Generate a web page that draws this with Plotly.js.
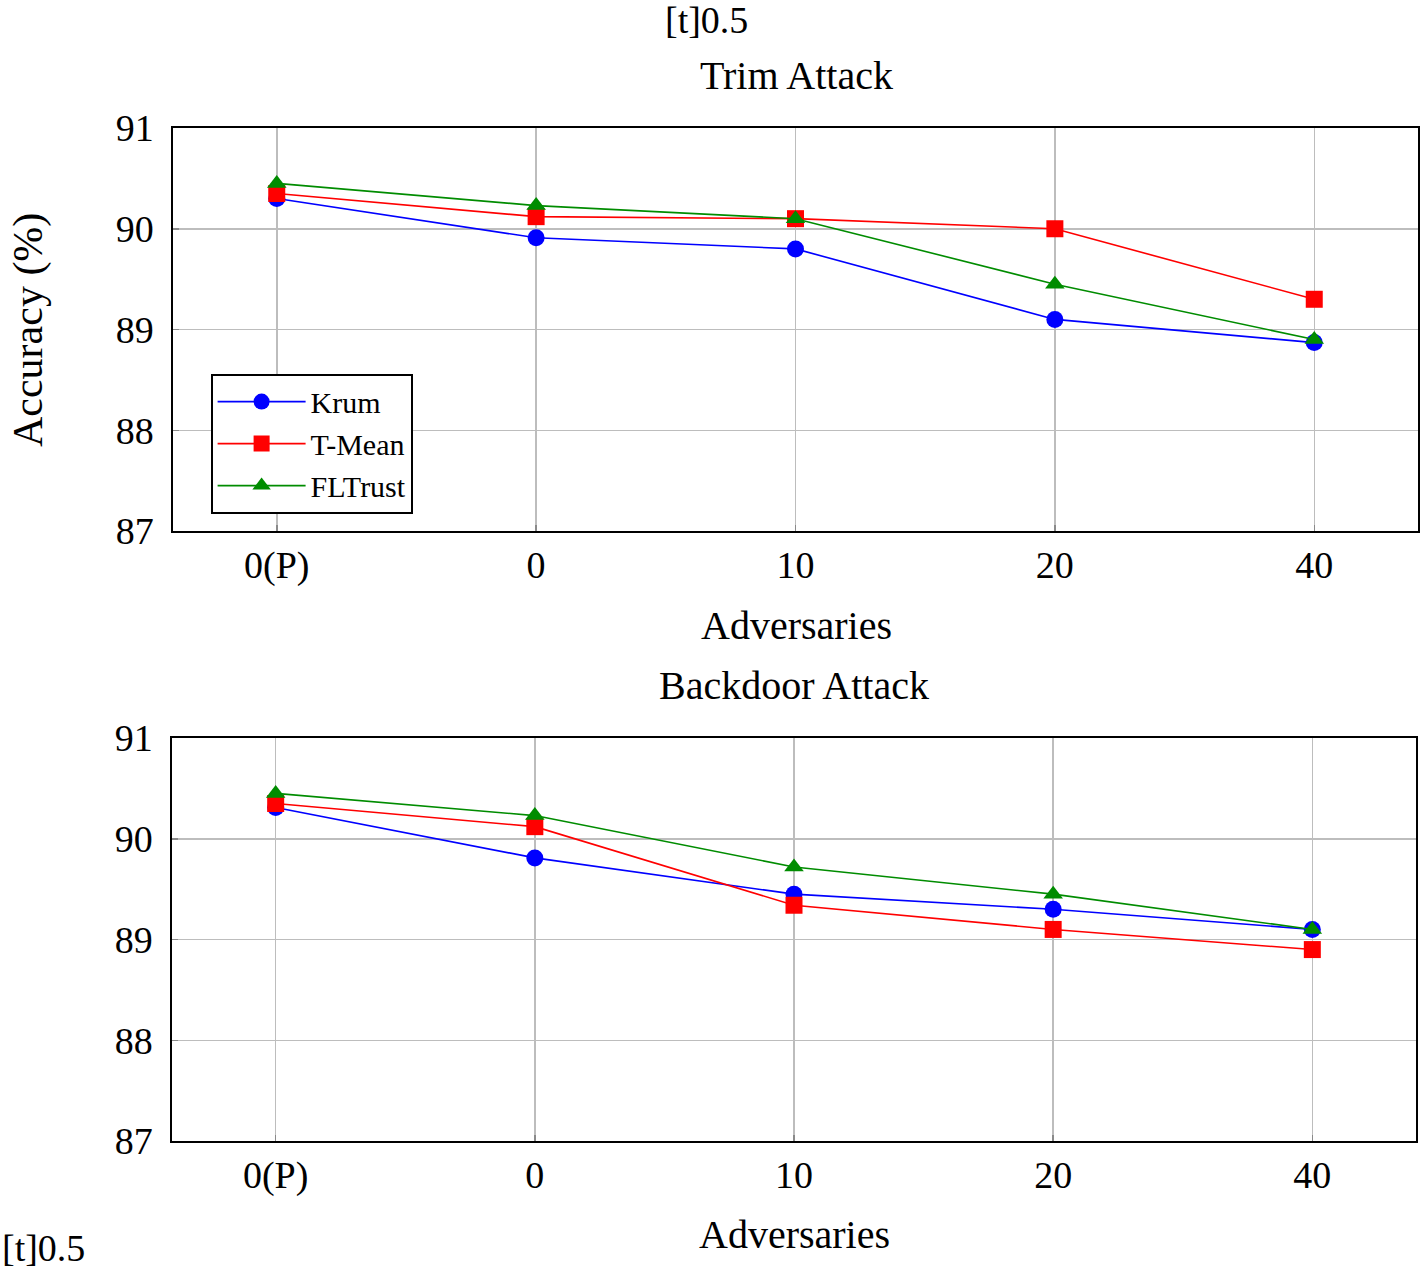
<!DOCTYPE html>
<html>
<head>
<meta charset="utf-8">
<script src="https://cdn.plot.ly/plotly-3.0.1.min.js"></script>
<style>html,body{margin:0;padding:0;background:#fff;}#chart{width:1420px;height:1272px;}</style>
</head>
<body>
<div id="chart"></div>
<script>
const categories = ["0(P)", "0", "10", "20", "40"];
const seriesNames = ["Krum", "T-Mean", "FLTrust"];
const trimKrum    = [90.3, 89.91, 89.8, 89.1, 88.87];
const trimTMean   = [90.35, 90.12, 90.1, 90.0, 89.3];
const trimFLTrust = [90.45, 90.23, 90.1, 89.45, 88.9];
const bdKrum      = [90.31, 89.81, 89.45, 89.3, 89.1];
const bdTMean     = [90.35, 90.12, 89.34, 89.1, 88.9];
const bdFLTrust   = [90.45, 90.23, 89.72, 89.45, 89.1];
const yTicks = [87, 88, 89, 90, 91];

const FONT = "Liberation Serif, Times New Roman, serif";
const colors = ["#0000ff", "#ff0000", "#008c00"];
const symbols = ["circle", "square", "triangle-up"];

function mk(y, i, xa, ya, show) {
  return {
    x: categories, y: y, xaxis: xa, yaxis: ya, type: "scatter", mode: "lines+markers",
    name: seriesNames[i], showlegend: show,
    line: {color: colors[i], width: 1.6},
    marker: {color: colors[i], symbol: symbols[i], size: 17, line: {width: 0}}
  };
}
const data = [
  mk(trimKrum, 0, "x", "y", true), mk(trimTMean, 1, "x", "y", true), mk(trimFLTrust, 2, "x", "y", true),
  mk(bdKrum, 0, "x2", "y2", false), mk(bdTMean, 1, "x2", "y2", false), mk(bdFLTrust, 2, "x2", "y2", false)
];

function xax(domain, anchor) {
  return {
    domain: domain, anchor: anchor, type: "category", range: [-0.4, 4.4],
    showgrid: true, gridcolor: "#bdbdbd", gridwidth: 1.5,
    showline: true, linecolor: "#000", linewidth: 1.6, mirror: true,
    ticks: "inside", ticklen: 6, tickcolor: "#8a8a8a", tickwidth: 1.5,
    tickfont: {family: FONT, size: 38, color: "#000"}, ticklabelstandoff: 0,
    zeroline: false, fixedrange: true
  };
}
function yax(domain, anchor) {
  return {
    domain: domain, anchor: anchor, range: [87, 91], tickvals: yTicks, ticktext: yTicks.map(String),
    showgrid: true, gridcolor: "#bdbdbd", gridwidth: 1.5,
    showline: true, linecolor: "#000", linewidth: 1.6, mirror: true,
    ticks: "inside", ticklen: 6, tickcolor: "#8a8a8a", tickwidth: 1.5,
    tickfont: {family: FONT, size: 38, color: "#000"}, ticklabelstandoff: 10,
    zeroline: false, fixedrange: true
  };
}

const W = 1420, H = 1272;
const layout = {
  width: W, height: H, margin: {l: 0, r: 0, t: 0, b: 0},
  paper_bgcolor: "#fff", plot_bgcolor: "#fff",
  font: {family: FONT, color: "#000"},
  xaxis: xax([173 / W, 1418 / W], "y"),
  yaxis: yax([(H - 531) / H, (H - 128) / H], "x"),
  xaxis2: xax([172 / W, 1416 / W], "y2"),
  yaxis2: yax([(H - 1141) / H, (H - 738) / H], "x2"),
  showlegend: true,
  legend: {
    x: 211 / W, y: (H - 374) / H, xanchor: "left", yanchor: "top",
    bgcolor: "#fff", bordercolor: "#000", borderwidth: 1.6,
    font: {family: FONT, size: 30, color: "#000"}, tracegroupgap: 0,
    itemwidth: 88
  },
  annotations: [
    {text: "[t]0.5", x: 706 / W, y: (H - 20) / H, xref: "paper", yref: "paper", showarrow: false, xanchor: "center", yanchor: "middle", font: {family: FONT, size: 38}},
    {text: "Trim Attack", x: 796 / W, y: (H - 76) / H, xref: "paper", yref: "paper", showarrow: false, xanchor: "center", yanchor: "middle", font: {family: FONT, size: 40}},
    {text: "Adversaries", x: 796 / W, y: (H - 625) / H, xref: "paper", yref: "paper", showarrow: false, xanchor: "center", yanchor: "middle", font: {family: FONT, size: 40}},
    {text: "Backdoor Attack", x: 794 / W, y: (H - 685) / H, xref: "paper", yref: "paper", showarrow: false, xanchor: "center", yanchor: "middle", font: {family: FONT, size: 40}},
    {text: "Adversaries", x: 794 / W, y: (H - 1234) / H, xref: "paper", yref: "paper", showarrow: false, xanchor: "center", yanchor: "middle", font: {family: FONT, size: 40}},
    {text: "Accuracy (%)", x: 28 / W, y: (H - 330) / H, xref: "paper", yref: "paper", showarrow: false, xanchor: "center", yanchor: "middle", textangle: -90, font: {family: FONT, size: 42}},
    {text: "[t]0.5", x: 0, y: (H - 1248) / H, xref: "paper", yref: "paper", showarrow: false, xanchor: "left", yanchor: "middle", font: {family: FONT, size: 38}}
  ]
};
Plotly.newPlot("chart", data, layout, {staticPlot: true, displayModeBar: false});
</script>
</body>
</html>
